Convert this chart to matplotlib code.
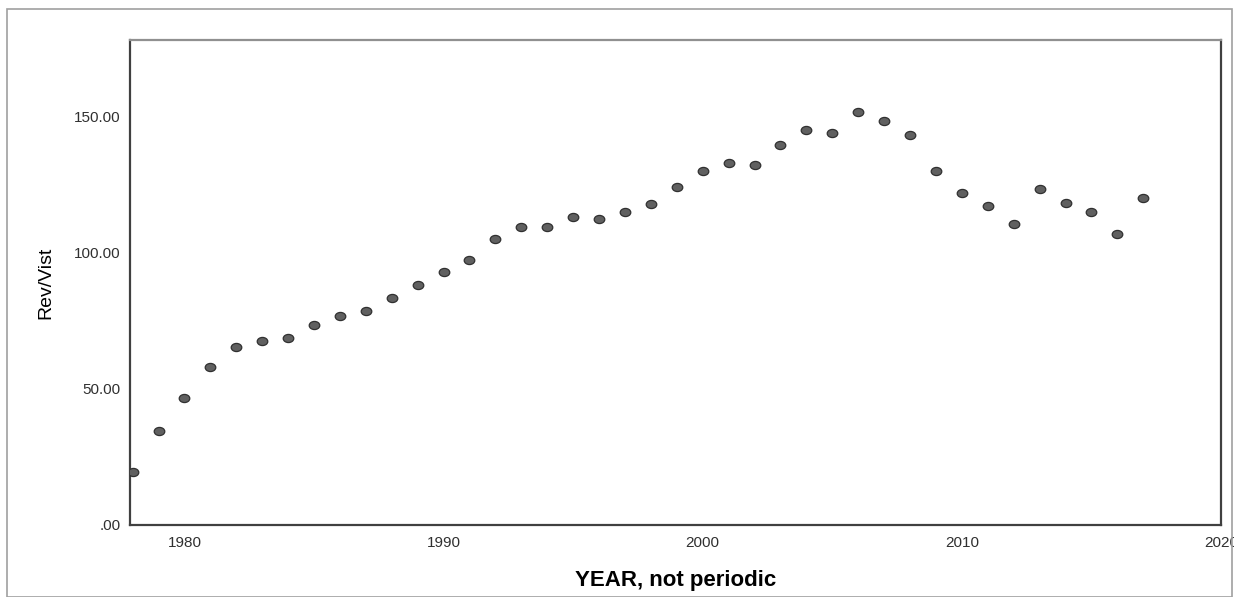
import numpy as np
import matplotlib
matplotlib.use('Agg')
import matplotlib.pyplot as plt
from matplotlib.path import Path
from matplotlib.transforms import Affine2D
from matplotlib.patches import Rectangle

plt.rcParams['font.family'] = ['Liberation Sans', 'DejaVu Sans']

# data
years = list(range(1978, 2018))
rev_vist = [19.3, 34.5, 46.6, 57.9, 65.3, 67.4, 68.8, 73.3, 76.6, 78.6,
            83.2, 87.9, 93.0, 97.4, 105.0, 109.5, 109.5, 112.9, 112.3, 115.0,
            117.9, 124.1, 129.8, 133.0, 132.3, 139.6, 144.9, 144.0, 151.4, 148.1,
            143.2, 130.0, 121.9, 117.0, 110.4, 123.2, 118.3, 114.7, 106.7, 120.1]
x_ticks = [1980, 1990, 2000, 2010, 2020]
y_ticks = [0, 50, 100, 150]
y_ticklabels = ['.00', '50.00', '100.00', '150.00']

fig = plt.figure(figsize=(12.34, 5.97), dpi=100)

# outer frame like the SPSS chart window
fig.patches.append(Rectangle((7 / 1234, 0.0), 1225 / 1234, 1 - 9 / 597,
                             transform=fig.transFigure, fill=False,
                             edgecolor='#a0a0a0', linewidth=1.2))

ax = fig.add_axes([130 / 1234, 1 - 525 / 597, (1221 - 130) / 1234, (525 - 40) / 597])

ellipse = Path.unit_circle().transformed(Affine2D().scale(1.3, 1.0))
ax.scatter(years, rev_vist, marker=ellipse, s=58, facecolor='#606060',
           edgecolor='#303030', linewidth=0.9, zorder=3)

ax.set_xlim(1977.9, 2020)
ax.set_ylim(0, 178)
ax.set_xticks(x_ticks)
ax.set_yticks(y_ticks)
ax.set_yticklabels(y_ticklabels)
ax.tick_params(length=0, labelsize=11, colors='#303030')
ax.tick_params(axis='x', pad=8)
ax.tick_params(axis='y', pad=7)

for s in ax.spines.values():
    s.set_color('#404040')
    s.set_linewidth(1.6)
ax.spines['top'].set_color('#909090')

ax.set_xlabel('YEAR, not periodic', fontsize=16, fontweight='bold', labelpad=14)
ax.set_ylabel('Rev/Vist', fontsize=14, labelpad=14)

fig.savefig('out.png', dpi=100)
